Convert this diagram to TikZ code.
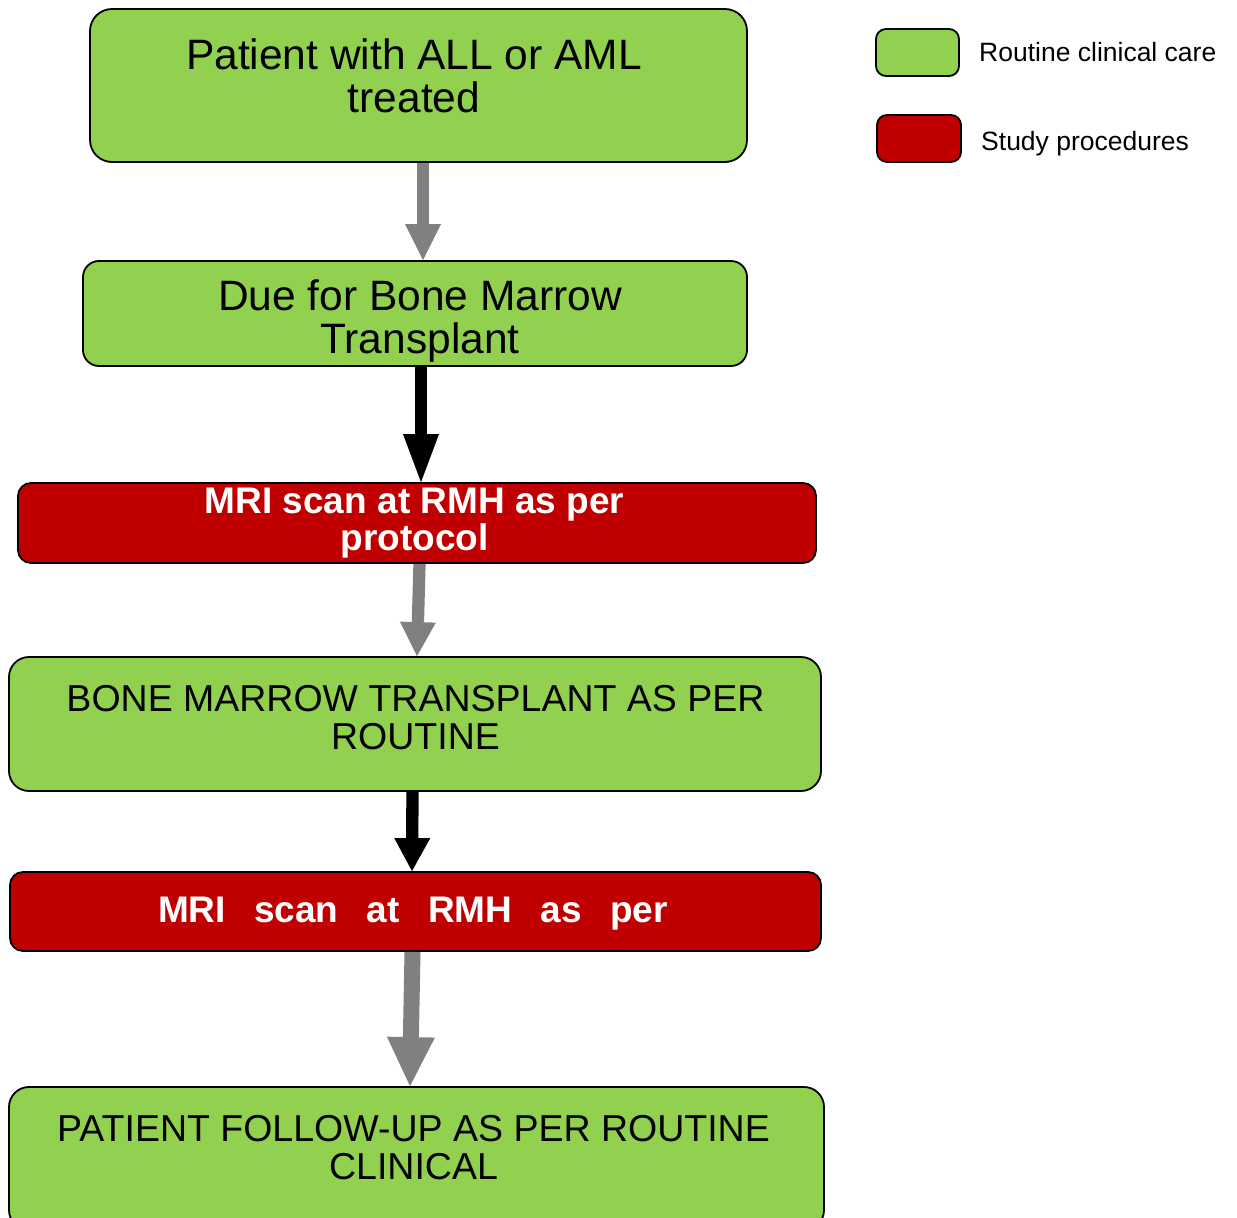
\documentclass[tikz,border=0pt]{standalone}
\usepackage{fontspec}
\setmainfont{Liberation Sans}
\usetikzlibrary{arrows.meta}
\definecolor{routine}{HTML}{92D050}
\definecolor{study}{HTML}{C00000}
\definecolor{flowgray}{HTML}{808080}
\begin{document}
\begin{tikzpicture}[x=1pt,y=1pt,
  box/.style={draw=black, line width=1.8pt, inner sep=0pt},
  greenbox/.style={box, fill=routine, rounded corners=20pt},
  redbox/.style={box, fill=study, rounded corners=13pt},
  keybox/.style={box, fill=#1, rounded corners=10pt, minimum width=83pt, minimum height=47pt},
  bigtext/.style={align=center, inner sep=0pt, font=\fontsize{42.5}{43}\selectfont},
  plaintext/.style={align=center, inner sep=0pt, font=\fontsize{37.5}{38.5}\selectfont},
  boldtext/.style={align=center, inner sep=0pt, text=white, font=\fontsize{37}{37.5}\selectfont\bfseries},
  keytext/.style={anchor=west, inner sep=0pt, font=\fontsize{26.5}{28}\selectfont},
  grayflow/.style={line width=12.3pt, draw=flowgray,
    -{Triangle[length=#1, width=36pt, line width=0pt, fill=flowgray]}},
  blackflow/.style={line width=12.3pt, draw=black,
    -{Triangle[length=#1, width=36pt, line width=0pt, fill=black]}},
]
\useasboundingbox (0,0) rectangle (1237,-1218);

% process boxes
\node[greenbox, minimum width=657pt, minimum height=153pt, rounded corners=22pt] (b1) at (418.5,-85.5) {};
\node[greenbox, minimum width=664pt, minimum height=105pt, rounded corners=16pt] (b2) at (415,-313.5) {};
\node[redbox,   minimum width=798pt, minimum height=80pt] (b3) at (417,-523) {};
\node[greenbox, minimum width=812pt, minimum height=134pt] (b4) at (415,-724) {};
\node[redbox,   minimum width=811pt, minimum height=79pt] (b5) at (415.5,-911.5) {};
\node[greenbox, minimum width=815pt, minimum height=143pt] (b6) at (416.5,-1158.5) {};

% box texts
\node[bigtext] (t1) at (414,-76) {Patient with ALL or AML\\treated};
\node[bigtext] (t2) at (420,-321) {Due for Bone Marrow\\Transplant};
\node[boldtext] (t3) at (414.5,-523) {MRI scan at RMH as per\\protocol};
\node[plaintext] (t4) at (415.5,-717.5) {BONE MARROW TRANSPLANT AS PER\\ROUTINE};
\node[boldtext] (t5) at (413,-914) {\makebox[510pt][s]{MRI scan at RMH as per}};
\node[plaintext] (t6) at (413.5,-1147.5) {PATIENT FOLLOW-UP AS PER ROUTINE\\CLINICAL};

% connectors
\draw[grayflow=36pt]  ([xshift=4.5pt]b1.south) -- ([xshift=8pt]b2.north);
\draw[blackflow=48pt] ([xshift=6pt]b2.south) -- ([xshift=4pt]b3.north);
\draw[grayflow=34pt]  ([xshift=2.5pt]b3.south) -- ([xshift=2pt]b4.north);
\draw[blackflow=33pt] ([xshift=-2.5pt]b4.south) -- ([xshift=-3.5pt]b5.north);
\draw[line width=16pt, draw=flowgray,
  -{Triangle[length=49pt, width=48pt, line width=0pt, fill=flowgray]}]
  ([xshift=-3pt]b5.south) -- ([xshift=-6.5pt]b6.north);

% key
\node[keybox=routine] (k1) at (917.5,-52.5) {};
\node[keybox=study, minimum width=84pt] (k2) at (919,-138.5) {};
\node[keytext] (k1t) at (979,-52) {Routine clinical care};
\node[keytext] (k2t) at (981,-143.5) {Study procedures};
\end{tikzpicture}
\end{document}
